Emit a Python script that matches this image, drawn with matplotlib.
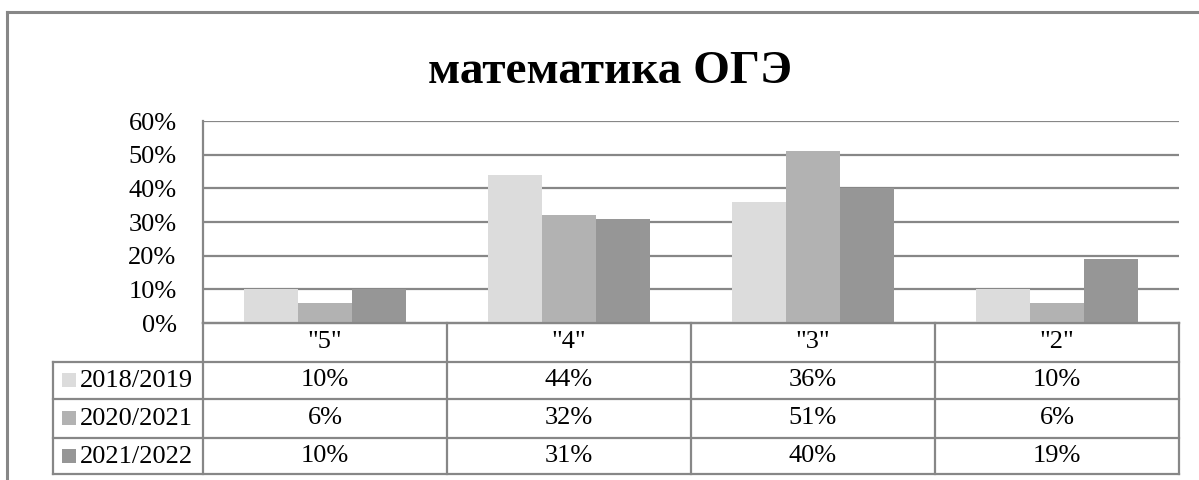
import matplotlib
matplotlib.use("Agg")
import matplotlib.pyplot as plt
from matplotlib.patches import Rectangle
from matplotlib.lines import Line2D

categories = ['"5"', '"4"', '"3"', '"2"']
series_names = ["2018/2019", "2020/2021", "2021/2022"]
values_2018 = [10, 44, 36, 10]
values_2020 = [6, 32, 51, 6]
values_2021 = [10, 31, 40, 19]
series_values = [values_2018, values_2020, values_2021]
colors = ["#dcdcdc", "#b2b2b2", "#969696"]
title = "математика ОГЭ"
yticks = [0, 10, 20, 30, 40, 50, 60]

W, H = 1199, 480
fig = plt.figure(figsize=(W / 100, H / 100), dpi=100)
plt.rcParams['font.family'] = ['Liberation Serif', 'DejaVu Serif']

grid_c = "#878787"
FS = 19

# outer frame (left + top)
fig.add_artist(Line2D([7 / W, 7 / W], [0, 1 - 12 / H], color=grid_c, lw=2.2, transform=fig.transFigure))
fig.add_artist(Line2D([7 / W, 1], [1 - 12 / H, 1 - 12 / H], color=grid_c, lw=2.2, transform=fig.transFigure))

ax_l, ax_r, ax_t, ax_b = 203, 1179, 121, 323
ax = fig.add_axes([ax_l / W, 1 - ax_b / H, (ax_r - ax_l) / W, (ax_b - ax_t) / H])

bw = 1 / 4.5
for i, (vals, c) in enumerate(zip(series_values, colors)):
    xs = [k + (i - 1) * bw for k in range(len(categories))]
    ax.bar(xs, vals, width=bw, color=c, zorder=3, linewidth=0)

ax.set_xlim(-0.5, len(categories) - 0.5)
ax.set_ylim(0, 60)
ax.set_yticks(yticks)
ax.set_yticklabels([f"{t}%" for t in yticks], fontsize=FS)
ax.set_xticks([])
ax.tick_params(axis='y', length=0, pad=19)
for t in yticks[1:]:
    ax.axhline(t, color=grid_c, lw=1.6, zorder=1)
for s in ["top", "right", "bottom"]:
    ax.spines[s].set_visible(False)
ax.spines["left"].set_color(grid_c)
ax.spines["left"].set_linewidth(1.6)
ax.axhline(0, color=grid_c, lw=1.6, zorder=4, clip_on=False)

# data table below
ah = ax_b - ax_t
def yfrac(py):
    return (ax_b - py) / ah

rows_px = [323, 361.5, 399, 437.5, 474]
trans = ax.get_xaxis_transform()
x_left_leg = -0.5 + (53 - ax_l) / ((ax_r - ax_l) / len(categories))
x_right = len(categories) - 0.5
lw_t = 1.6
for j, py in enumerate(rows_px):
    x0 = -0.5 if j == 0 else x_left_leg
    ax.add_line(Line2D([x0, x_right], [yfrac(py), yfrac(py)], color=grid_c, lw=lw_t, transform=trans, clip_on=False))
for k in range(len(categories) + 1):
    xk = -0.5 + k
    ax.add_line(Line2D([xk, xk], [yfrac(rows_px[0]), yfrac(rows_px[-1])], color=grid_c, lw=lw_t, transform=trans, clip_on=False))
ax.add_line(Line2D([x_left_leg, x_left_leg], [yfrac(rows_px[1]), yfrac(rows_px[-1])], color=grid_c, lw=lw_t, transform=trans, clip_on=False))

for k, cat in enumerate(categories):
    ax.text(k, yfrac((rows_px[0] + rows_px[1]) / 2), cat, ha='center', va='center', fontsize=FS, transform=trans)
for i, (name, vals, c) in enumerate(zip(series_names, series_values, colors)):
    yc = yfrac((rows_px[i + 1] + rows_px[i + 2]) / 2)
    for k, v in enumerate(vals):
        ax.text(k, yc, f"{v}%", ha='center', va='center', fontsize=FS, transform=trans)
    fig.add_artist(Rectangle((62 / W, 1 - ((rows_px[i + 1] + rows_px[i + 2]) / 2 + 7) / H), 14 / W, 14 / H,
                             facecolor=c, edgecolor='none', transform=fig.transFigure))
    fig.text(80 / W, 1 - ((rows_px[i + 1] + rows_px[i + 2]) / 2 + 1) / H, name, ha='left', va='center', fontsize=FS)

fig.text(610 / W, 1 - 72 / H, title, ha='center', va='center', fontsize=34, fontweight='bold')

fig.savefig("out.png", dpi=100, facecolor='white')
